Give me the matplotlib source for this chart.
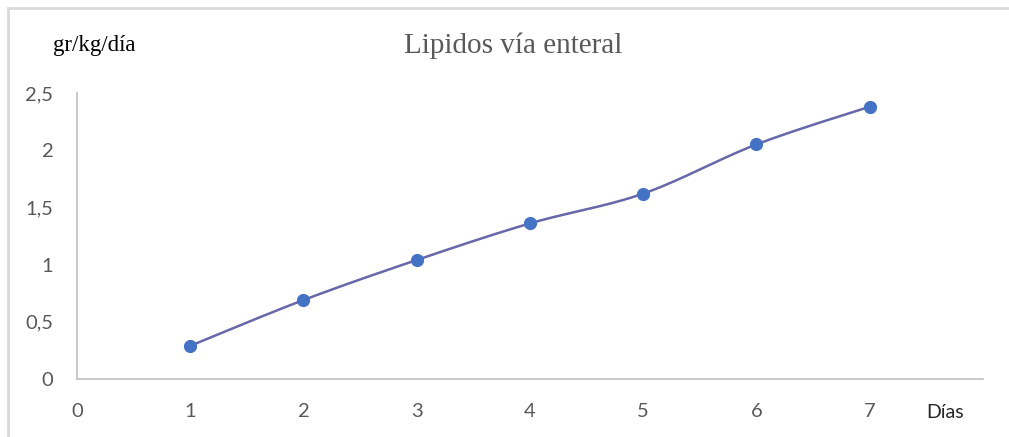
import numpy as np
import matplotlib.pyplot as plt
from matplotlib.patches import Rectangle
from matplotlib.ticker import FuncFormatter

# lipid intake per day
dias = [1, 2, 3, 4, 5, 6, 7]
lipidos = [0.29, 0.69, 1.04, 1.36, 1.62, 2.05, 2.38]
x_ticks = [0, 1, 2, 3, 4, 5, 6, 7]
y_ticks = [0, 0.5, 1, 1.5, 2, 2.5]


def smooth_curve(xs, ys, steps=30):
    # Bezier smoothing through every point (like a spreadsheet "smoothed line")
    xs = np.asarray(xs, float)
    ys = np.asarray(ys, float)
    n = len(xs)
    out_x, out_y = [], []
    for i in range(n - 1):
        i0 = max(i - 1, 0)
        i3 = min(i + 2, n - 1)
        p0 = np.array([xs[i], ys[i]])
        p3 = np.array([xs[i + 1], ys[i + 1]])
        c1 = p0 + (np.array([xs[i + 1], ys[i + 1]]) - np.array([xs[i0], ys[i0]])) / 6
        c2 = p3 - (np.array([xs[i3], ys[i3]]) - np.array([xs[i], ys[i]])) / 6
        t = np.linspace(0, 1, steps)[:, None]
        pts = ((1 - t) ** 3) * p0 + 3 * ((1 - t) ** 2) * t * c1 + 3 * (1 - t) * t ** 2 * c2 + t ** 3 * p3
        out_x.extend(pts[:, 0])
        out_y.extend(pts[:, 1])
    return out_x, out_y


fig = plt.figure(figsize=(10.09, 4.37), dpi=100)
ax = fig.add_axes([0.0763, 0.1327, 0.8977, 0.6545])

# outer frame (only top and left edge are visible)
fig.patches.append(Rectangle((8 / 1009, -0.5), 2.0, 1.5 - 8 / 437,
                             transform=fig.transFigure, fill=False,
                             edgecolor="#D9D9D9", linewidth=2))

sx, sy = smooth_curve(dias, lipidos)
ax.plot(sx, sy, color="#6767A9", linewidth=1.8, zorder=2)
ax.plot(dias, lipidos, linestyle="none", marker="o", markersize=8.5,
        color="#4472C4", zorder=3)

ax.set_xlim(0, 8)
ax.set_ylim(0, 2.5)
ax.set_xticks(x_ticks)
ax.set_yticks(y_ticks)
ax.yaxis.set_major_formatter(FuncFormatter(lambda v, p: f"{v:g}".replace(".", ",")))

for s in ["top", "right"]:
    ax.spines[s].set_visible(False)
for s in ["left", "bottom"]:
    ax.spines[s].set_color("#BFBFBF")
    ax.spines[s].set_linewidth(1.2)

ax.tick_params(axis="both", length=0, labelsize=14.5, labelcolor="#595959")
ax.tick_params(axis="y", pad=17)
ax.tick_params(axis="x", pad=17)
for lbl in ax.get_xticklabels() + ax.get_yticklabels():
    lbl.set_family("Lato")

fig.text(0.509, 0.895, "Lipidos vía enteral", family="Liberation Serif",
         fontsize=21, color="#595959", ha="center", va="center")
fig.text(0.093, 0.895, "gr/kg/día", family="Liberation Serif",
         fontsize=16.5, color="black", ha="center", va="center")
ax.text(7.67, -0.29, "Días", family="Lato", fontsize=14, color="#262626",
        ha="center", va="center", clip_on=False)

fig.savefig("out.png", dpi=100)
